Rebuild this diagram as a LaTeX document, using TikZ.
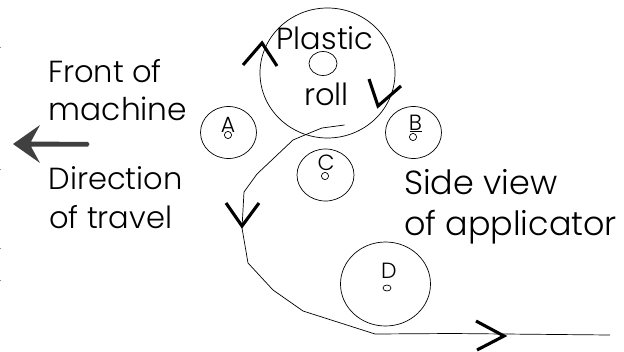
\documentclass[tikz,border=0pt]{standalone}
\usepackage{fontspec}
\setmainfont{Poppins Light}
\begin{document}
\begin{tikzpicture}[x=1pt,y=-1pt,
  lbl/.style={inner sep=0pt,anchor=base west,font=\fontsize{30.5}{30.5}\selectfont,text=black},
  lblmid/.style={inner sep=0pt,anchor=base west,font=\fontsize{31.3}{31.3}\selectfont,text=black},
  lblbig/.style={inner sep=0pt,anchor=base west,font=\fontsize{33.4}{33.4}\selectfont,text=black},
  letter/.style={inner sep=0pt,anchor=base,font=\fontsize{22}{22}\selectfont,text=black},
  roller/.style={draw=black,line width=0.7pt},
  hub/.style={draw=black,line width=0.7pt},
  web/.style={draw=black,line width=0.7pt,line join=round},
  chevron/.style={draw=black,line width=3.1pt,line join=miter,line cap=butt},
  speck/.style={draw=black!45,line width=0.8pt}]
\useasboundingbox (0,0) rectangle (624,351);
\fill[white] (0,0) rectangle (624,351);
\draw[roller] (327.5,73) ellipse [x radius=67.5,y radius=65];
\draw[hub] (323,63.5) ellipse [x radius=14,y radius=12];
\draw[roller] (228.5,132.5) ellipse [x radius=28,y radius=26];
\draw[hub] (228,135) circle [radius=3.6];
\draw[roller] (413.5,132.5) ellipse [x radius=28,y radius=26];
\draw[hub] (413,137) circle [radius=3.6];
\draw[roller] (325.5,175) ellipse [x radius=28.5,y radius=26];
\draw[hub] (325,176) circle [radius=3.6];
\draw[roller] (385.5,284) ellipse [x radius=45,y radius=42];
\draw[hub] (387,288) ellipse [x radius=4,y radius=3];
\node[lbl] (front) at (48,82) {Front of};
\node[lblmid] (mach) at (48.5,120) {machine};
\node[lbl] (dir) at (48.5,189) {Direction};
\node[lbl] (trav) at (49,228) {of travel};
\node[lblbig] (side) at (404,194) {Side view};
\node[lblbig] (appl) at (404,235) {of applicator};
\node[lbl] (plas) at (276.5,49) {Plastic};
\node[lbl] (roll) at (304,105) {roll};
\node[letter] (la) at (228,132) {A};
\node[letter] (lb) at (415.5,130) {B};
\node[letter] (lc) at (326,170) {C};
\node[letter] (ld) at (389,278) {D};
\draw[line width=0.8pt] (409.5,131.5) -- (422,131.5);
\draw[web] (344.5,125) -- (322,128) -- (312,132) -- (293,140) -- (257,174) -- (244,192) -- (242,228) -- (248,263) -- (273,290) -- (303,311) -- (375,334) -- (452,333.5) -- (610,335);
\draw[chevron] (243,65) -- (262,43) -- (277,66);
\draw[chevron] (369,79) -- (378,106) -- (401,86);
\draw[chevron] (226,203) -- (242,226) -- (259,203);
\draw[chevron] (476,321) -- (504,336) -- (477,350);
\fill[black!75] (13,144) -- (40,125) -- (31,141.5) -- (88,142) -- (89.5,144) -- (88,146.5) -- (31,146.5) -- (40,163) -- cycle;
\draw[speck] (0,47) -- (1,47);
\draw[speck] (0,169) -- (1,169);
\draw[speck] (0,248) -- (1,248);
\draw[speck] (0,280) -- (1,280);
\end{tikzpicture}
\end{document}
